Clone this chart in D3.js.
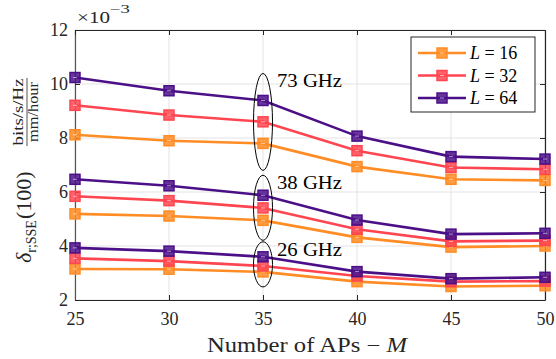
<!DOCTYPE html>
<html><head><meta charset="utf-8">
<script src="https://cdn.jsdelivr.net/npm/d3@7"></script>
<style>body{margin:0;background:#fff}svg{display:block}</style>
</head><body>
<svg id="c" width="556" height="359"></svg>
<script>
const apCounts = [25, 30, 35, 40, 45, 50];
const xTicks = [25, 30, 35, 40, 45, 50];
const yTicks = [2, 4, 6, 8, 10, 12];
const seriesNames = ["L = 16", "L = 32", "L = 64"];
const seriesColors = ["#ff8c24", "#ff4650", "#4b1088"];
// values in units of 1e-3
const l16_73 = [8.12, 7.90, 7.80, 6.94, 6.47, 6.43];
const l32_73 = [9.21, 8.85, 8.60, 7.53, 6.91, 6.84];
const l64_73 = [10.24, 9.75, 9.39, 8.07, 7.31, 7.22];
const l16_38 = [5.19, 5.11, 4.95, 4.32, 3.96, 4.00];
const l32_38 = [5.84, 5.68, 5.41, 4.62, 4.17, 4.20];
const l64_38 = [6.47, 6.23, 5.88, 4.96, 4.44, 4.47];
const l16_26 = [3.15, 3.14, 3.04, 2.68, 2.50, 2.53];
const l32_26 = [3.54, 3.44, 3.26, 2.89, 2.68, 2.70];
const l64_26 = [3.93, 3.81, 3.60, 3.05, 2.79, 2.84];
const bandLabels = ["73 GHz", "38 GHz", "26 GHz"];

const svg = d3.select("#c");
const font = "'Liberation Serif', 'DejaVu Serif', serif";
const L = 75, R = 545, T = 30, B = 300;
const x = d3.scaleLinear().domain([25, 50]).range([L, R]);
const y = d3.scaleLinear().domain([2, 12]).range([B, T]);

// grid
svg.append("g").selectAll("line").data(xTicks).join("line")
  .attr("x1", d => x(d)).attr("x2", d => x(d)).attr("y1", T).attr("y2", B)
  .attr("stroke", "#e3e3e3").attr("stroke-width", 1);
svg.append("g").selectAll("line").data(yTicks).join("line")
  .attr("y1", d => y(d)).attr("y2", d => y(d)).attr("x1", L).attr("x2", R)
  .attr("stroke", "#e3e3e3").attr("stroke-width", 1);

// axes
const ax = svg.append("g").attr("transform", `translate(0,${B})`)
  .call(d3.axisBottom(x).tickValues(xTicks).tickSize(-5).tickPadding(12).tickSizeOuter(0));
const ay = svg.append("g").attr("transform", `translate(${L},0)`)
  .call(d3.axisLeft(y).tickValues(yTicks).tickSize(-5).tickPadding(7).tickSizeOuter(0));
const at = svg.append("g").attr("transform", `translate(0,${T})`)
  .call(d3.axisTop(x).tickValues(xTicks).tickSize(-5).tickFormat("").tickSizeOuter(0));
const ar = svg.append("g").attr("transform", `translate(${R},0)`)
  .call(d3.axisRight(y).tickValues(yTicks).tickSize(-5).tickFormat("").tickSizeOuter(0));
[ax, ay, at, ar].forEach(g => {
  g.selectAll("path").attr("stroke", "#262626").attr("stroke-width", 1.2);
  g.selectAll("line").attr("stroke", "#262626");
  g.selectAll("text").attr("font-family", font).attr("font-size", 18).attr("fill", "#262626");
});
ay.select("path").attr("stroke", "#555");

// lines
const groups = [[l16_73, l32_73, l64_73], [l16_38, l32_38, l64_38], [l16_26, l32_26, l64_26]];
const line = d3.line().x((d, i) => x(apCounts[i])).y(d => y(d));
function marker(g, cx, cy, col) {
  g.append("rect").attr("x", cx - 5).attr("y", cy - 5).attr("width", 10).attr("height", 10)
    .attr("fill", col).attr("fill-opacity", 0.85).attr("stroke", col).attr("stroke-width", 1.5);
  g.append("line").attr("x1", cx - 2).attr("x2", cx + 2).attr("y1", cy).attr("y2", cy)
    .attr("stroke", "#fff").attr("stroke-opacity", 0.55).attr("stroke-width", 1);
}
groups.forEach(gr => {
  gr.forEach((vals, si) => {
    const col = seriesColors[si];
    svg.append("path").datum(vals).attr("d", line).attr("fill", "none")
      .attr("stroke", col).attr("stroke-width", 2.6);
    const mg = svg.append("g");
    vals.forEach((v, i) => marker(mg, x(apCounts[i]), y(v), col));
  });
});

// ellipses and labels
const annot = [[l64_73, l16_73], [l64_38, l16_38], [l64_26, l16_26]];
annot.forEach((pair, k) => {
  const hi = y(pair[0][2]), lo = y(pair[1][2]);
  const pad = [27, 20, 15][k];
  const cy = (hi + lo) / 2, ry = (lo - hi) / 2 + pad;
  svg.append("ellipse").attr("cx", x(35)).attr("cy", cy).attr("rx", 9.5).attr("ry", ry)
    .attr("fill", "none").attr("stroke", "#000").attr("stroke-width", 1);
  svg.append("text").attr("x", x(35) + 14).attr("y", cy - ry + 14)
    .attr("font-family", font).attr("font-size", 19).attr("fill", "#000")
    .attr("textLength", 65).attr("lengthAdjust", "spacingAndGlyphs").text(bandLabels[k]);
});

// exponent
svg.append("text").attr("x", 77).attr("y", 23).attr("font-family", font)
  .attr("font-size", 17).attr("fill", "#262626")
  .attr("textLength", 33).attr("lengthAdjust", "spacingAndGlyphs").text("×10");
svg.append("text").attr("x", 110).attr("y", 13).attr("font-family", font)
  .attr("font-size", 12).attr("fill", "#262626")
  .attr("textLength", 20).attr("lengthAdjust", "spacingAndGlyphs").text("−3");

// x label
const xl = svg.append("text").attr("x", 307).attr("y", 352).attr("text-anchor", "middle")
  .attr("font-family", font).attr("font-size", 20).attr("fill", "#262626")
  .attr("textLength", 200).attr("lengthAdjust", "spacingAndGlyphs");
xl.append("tspan").text("Number of APs − ");
xl.append("tspan").attr("font-style", "italic").text("M");

// y label
const yl = svg.append("g").attr("transform", "translate(25,170) rotate(-90)");
const ym = yl.append("text").attr("x", -93).attr("y", 6).attr("font-family", font)
  .attr("font-size", 22).attr("fill", "#262626");
ym.append("tspan").attr("font-style", "italic").text("δ");
ym.append("tspan").attr("dy", 5).attr("font-size", 14).text("r;SSE");
ym.append("tspan").attr("dy", -5).attr("dx", 1).text("(100)");
yl.append("line").attr("x1", 24).attr("x2", 92).attr("y1", 2).attr("y2", 2)
  .attr("stroke", "#262626").attr("stroke-width", 0.8);
yl.append("text").attr("x", 58).attr("y", -2).attr("text-anchor", "middle")
  .attr("font-family", font).attr("font-size", 15).attr("fill", "#262626")
  .attr("textLength", 67).attr("lengthAdjust", "spacingAndGlyphs").text("bits/s/Hz");
yl.append("text").attr("x", 58).attr("y", 13).attr("text-anchor", "middle")
  .attr("font-family", font).attr("font-size", 15).attr("fill", "#262626")
  .attr("textLength", 60).attr("lengthAdjust", "spacingAndGlyphs").text("mm/hour");

// legend
const lg = svg.append("g");
lg.append("rect").attr("x", 411).attr("y", 37).attr("width", 124).attr("height", 75)
  .attr("fill", "#fff").attr("stroke", "#262626").attr("stroke-width", 1);
seriesNames.forEach((n, i) => {
  const yy = 53 + i * 22.5;
  lg.append("line").attr("x1", 418).attr("x2", 466).attr("y1", yy).attr("y2", yy)
    .attr("stroke", seriesColors[i]).attr("stroke-width", 2.6);
  marker(lg, 442, yy, seriesColors[i]);
  const t = lg.append("text").attr("x", 470).attr("y", yy + 6).attr("font-family", font)
    .attr("font-size", 18).attr("fill", "#000");
  const parts = n.split(" = ");
  t.append("tspan").attr("font-style", "italic").text(parts[0]);
  t.append("tspan").text(" = " + parts[1]);
});
</script>
</body></html>
